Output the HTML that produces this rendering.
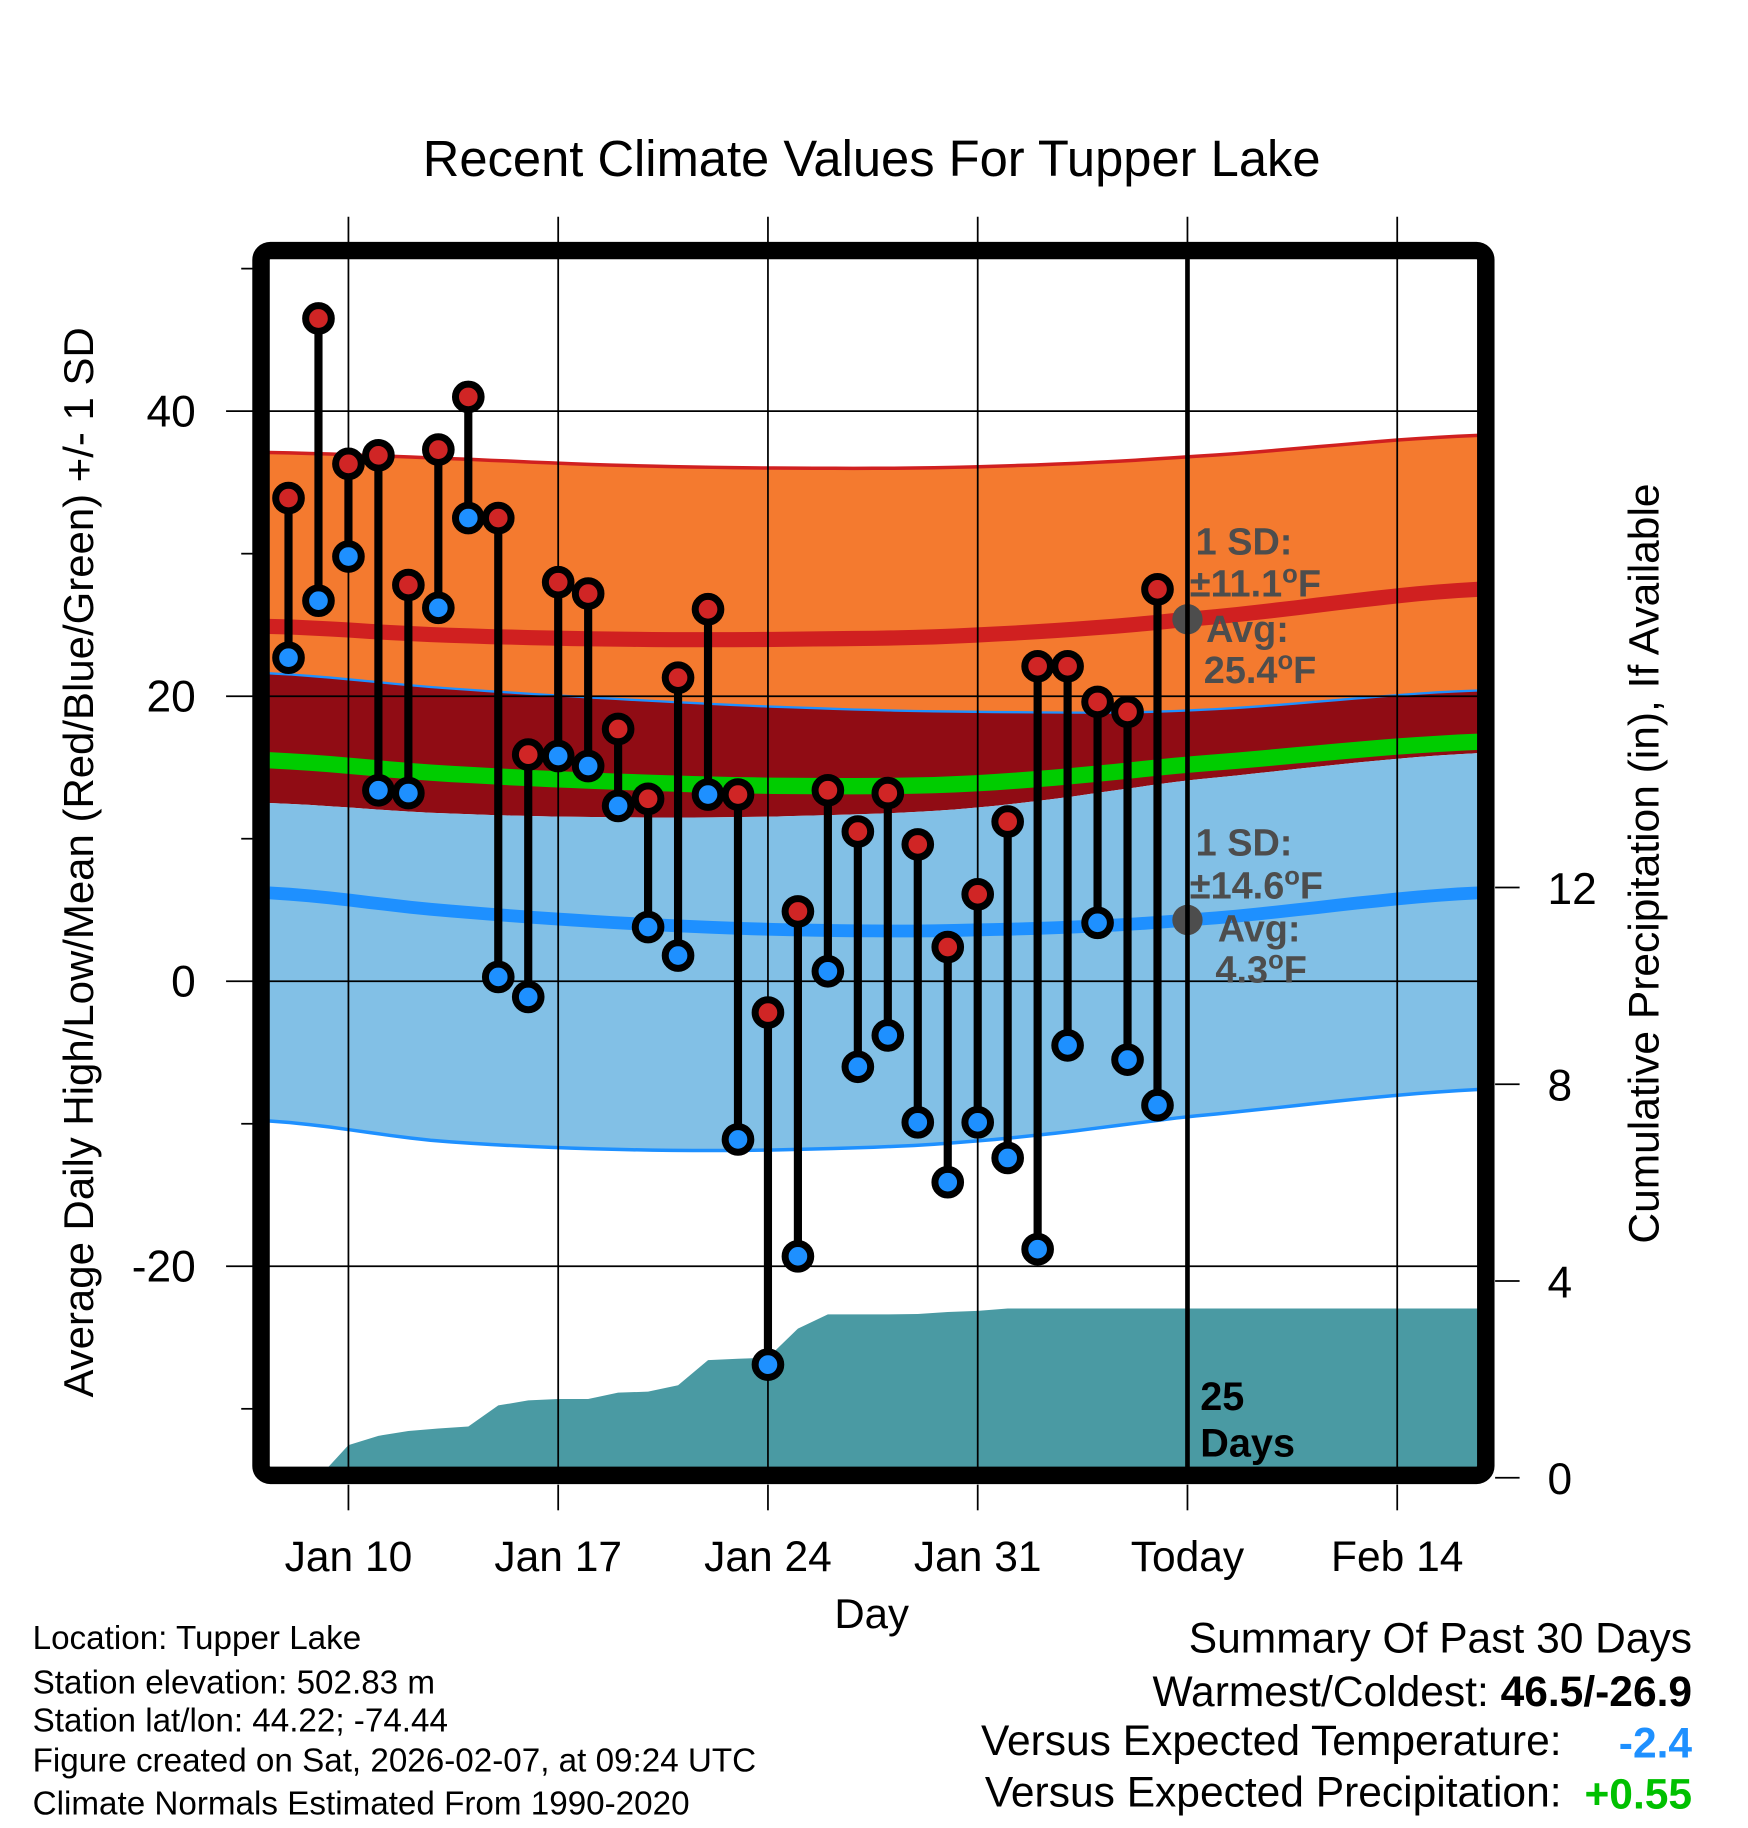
<!DOCTYPE html>
<html><head><meta charset="utf-8"><style>
html,body{margin:0;padding:0;background:#fff}
svg{display:block}
text{font-family:"Liberation Sans",sans-serif}
</style></head><body>
<svg id="chart" width="1748" height="1828" viewBox="0 0 1500 1568.6" preserveAspectRatio="none" xmlns="http://www.w3.org/2000/svg">
<g id="bands"></g>
<g id="precip"></g>
<g id="grid"></g>
<g id="annot">
 <g fill="#4d4d4d" font-weight="bold" font-size="32.5">
  <text x="1026" y="476">1 SD:</text>
  <text x="1021" y="512">±11.1<tspan font-size="22" dy="-12">o</tspan><tspan dy="12">F</tspan></text>
  <text x="1035" y="551">Avg:</text>
  <text x="1033" y="586">25.4<tspan font-size="22" dy="-12">o</tspan><tspan dy="12">F</tspan></text>
  <text x="1026" y="734">1 SD:</text>
  <text x="1021" y="771">±14.6<tspan font-size="22" dy="-12">o</tspan><tspan dy="12">F</tspan></text>
  <text x="1045" y="808">Avg:</text>
  <text x="1043" y="843">4.3<tspan font-size="22" dy="-12">o</tspan><tspan dy="12">F</tspan></text>
 </g>
</g>
<g id="marks"></g>
<line x1="1019" y1="222" x2="1019" y2="1262" stroke="#000" stroke-width="4"/>
<text x="1030" y="1210" font-size="34" font-weight="bold">25</text>
<text x="1030" y="1250" font-size="34" font-weight="bold">Days</text>
<rect x="224" y="215" width="1051" height="1051" rx="8" fill="none" stroke="#000" stroke-width="15"/>
<g id="axes"></g>
<text x="748" y="151" font-size="43.5" text-anchor="middle">Recent Climate Values For Tupper Lake</text>
<text x="748" y="1397" font-size="36" text-anchor="middle">Day</text>
<text transform="translate(80,740) rotate(-90)" font-size="36" text-anchor="middle">Average Daily High/Low/Mean (Red/Blue/Green) +/- 1 SD</text>
<text transform="translate(1423,741) rotate(-90)" font-size="36.5" text-anchor="middle">Cumulative Precipitation (in), If Available</text>
<g font-size="28.5">
 <text x="28" y="1415">Location: Tupper Lake</text>
 <text x="28" y="1453">Station elevation: 502.83 m</text>
 <text x="28" y="1486">Station lat/lon: 44.22; -74.44</text>
 <text x="28" y="1520">Figure created on Sat, 2026-02-07, at 09:24 UTC</text>
 <text x="28" y="1557">Climate Normals Estimated From 1990-2020</text>
</g>
<g font-size="36.5">
 <text x="1452" y="1418" text-anchor="end">Summary Of Past 30 Days</text>
 <text x="1452" y="1464" text-anchor="end">Warmest/Coldest: <tspan font-weight="bold">46.5/-26.9</tspan></text>
 <text x="1340" y="1506" text-anchor="end">Versus Expected Temperature:</text>
 <text x="1452" y="1508" text-anchor="end" font-weight="bold" fill="#1e90ff">-2.4</text>
 <text x="1340" y="1550" text-anchor="end">Versus Expected Precipitation:</text>
 <text x="1452" y="1552" text-anchor="end" font-weight="bold" fill="#00c000">+0.55</text>
</g>
</svg>
<script>
// day offsets from Jan 10
const days = [-2,-1,0,1,2,3,4,5,6,7,8,9,10,11,12,13,14,15,16,17,18,19,20,21,22,23,24,25,26,27];
const highs = [33.9,46.5,36.3,36.9,27.8,37.3,41.0,32.5,15.9,28.0,27.2,17.7,12.8,21.3,26.1,13.1,-2.2,4.9,13.4,10.5,13.2,9.6,2.4,6.1,11.2,22.1,22.1,19.6,18.9,27.5];
const lows = [22.7,26.7,29.8,13.4,13.2,26.2,32.5,0.3,-1.1,15.8,15.1,12.3,3.8,1.8,13.1,-11.1,-26.9,-19.3,0.7,-6.0,-3.8,-9.9,-14.1,-9.9,-12.4,-18.8,-4.5,4.1,-5.5,-8.7];
const precip = [0,0,0.66,0.85,0.95,1.0,1.04,1.47,1.57,1.6,1.6,1.73,1.75,1.88,2.39,2.42,2.44,3.03,3.32,3.32,3.32,3.33,3.37,3.39,3.44,3.44,3.44,3.44,3.44,3.44];
const normDays = [-2.64,3,9,15,21,28,37.7];
const upperHigh = [37.1,36.7,36.2,36.0,36.1,36.8,38.3];
const avgHigh = [24.9,24.3,24.0,24.0,24.3,25.4,27.5];
const lowerHigh = [21.6,20.6,19.8,19.2,18.9,19.0,20.4];
const meanLine = [15.5,14.6,14.0,13.7,13.9,15.2,16.8];
const upperLow = [12.5,11.8,11.5,11.6,12.2,14.1,16.0];
const avgLow = [6.2,5.0,4.1,3.6,3.6,4.3,6.2];
const lowerLow = [-9.8,-11.2,-11.8,-11.8,-11.2,-9.5,-7.6];
const xTickDays = [0,7,14,21,28,35];
const xTickLabels = ["Jan 10","Jan 17","Jan 24","Jan 31","Today","Feb 14"];
const yTicks = [40,20,0,-20];
const yMinor = [50,30,10,-10,-30];
const pTicks = [0,4,8,12];

const NS='http://www.w3.org/2000/svg';
const X = d => 299 + d*25.714;
const Y = v => 842 - v*12.23;
const P = p => 1268 - p*42.2;
const L=231,R=1268,T=222,B=1259;
function mk(parent,tag,attrs){const e=document.createElementNS(NS,tag);for(const k in attrs)e.setAttribute(k,attrs[k]);document.getElementById(parent).appendChild(e);return e;}
// smooth (Catmull-Rom-ish via monotone sampling) interpolation for display
function interp(arr,d){
  const n=normDays.length;
  let i=0; while(i<n-2 && d>normDays[i+1]) i++;
  const x0=normDays[i],x1=normDays[i+1],t=(d-x0)/(x1-x0);
  const p0=arr[Math.max(i-1,0)],p1=arr[i],p2=arr[i+1],p3=arr[Math.min(i+2,n-1)];
  const t2=t*t,t3=t2*t;
  return 0.5*((2*p1)+(-p0+p2)*t+(2*p0-5*p1+4*p2-p3)*t2+(-p0+3*p1-3*p2+p3)*t3);
}
function pts(arr){const out=[];const d0=normDays[0],d1=normDays[normDays.length-1];for(let k=0;k<=60;k++){const d=d0+(d1-d0)*k/60;out.push(X(d).toFixed(1)+','+Y(interp(arr,d)).toFixed(1));}return out;}
function band(top,bot,fill,name){
  const e=mk('bands','polygon',{points:pts(top).concat(pts(bot).reverse()).join(' '),fill:fill});
  
  
}
function line(arr,stroke,w,name){
  const e=mk('bands','polyline',{points:pts(arr).join(' '),fill:'none',stroke:stroke,'stroke-width':w});
  
  
}
band(upperHigh,lowerHigh,'#f47a2f','high-sd-band');
band(lowerHigh,upperLow,'#900c14','overlap-band');
band(upperLow,lowerLow,'#82c0e6','low-sd-band');
line(upperHigh,'#d02020',3,'high-upper-line');
line(lowerHigh,'#1e90ff',2,'high-lower-line');
line(lowerLow,'#1e90ff',3,'low-lower-line');
line(avgHigh,'#d02020',13,'avg-high-line');
line(meanLine,'#00cc00',14,'mean-line');
line(avgLow,'#1e90ff',11,'avg-low-line');

// precipitation
let pp=[X(days[0])+','+B];
days.forEach((d,i)=>pp.push(X(d).toFixed(1)+','+Math.min(P(precip[i]),B+12).toFixed(1)));
pp.push(R+','+P(precip[precip.length-1]).toFixed(1)); pp.push(R+','+(B+12));
const pa=mk('precip','polygon',{points:pp.join(' '),fill:'#4a9aa3'});



// grid
xTickDays.forEach((d,i)=>{
  const g=mk('grid','line',{x1:X(d),x2:X(d),y1:186,y2:B,stroke:'#000','stroke-width':1.5});
  
  
  const t=mk('axes','line',{x1:X(d),x2:X(d),y1:1274,y2:1296,stroke:'#000','stroke-width':1.5});
  
  
  const lb=mk('axes','text',{x:X(d),y:1348,'font-size':36.5,'text-anchor':'middle'});
  lb.textContent=xTickLabels[i];
  
  
});
yTicks.forEach(v=>{
  const g=mk('grid','line',{x1:L,x2:R,y1:Y(v),y2:Y(v),stroke:'#000','stroke-width':1.5});
  
  
  const t=mk('axes','line',{x1:194,x2:217,y1:Y(v),y2:Y(v),stroke:'#000','stroke-width':1.5});
  
  
  const lb=mk('axes','text',{x:168,y:Y(v)+13,'font-size':38,'text-anchor':'end'});
  lb.textContent=String(v);
  
  
});
yMinor.forEach(v=>{
  const t=mk('axes','line',{x1:207,x2:217,y1:Y(v),y2:Y(v),stroke:'#000','stroke-width':1.5});
  
  
});
pTicks.forEach(p=>{
  const t=mk('axes','line',{x1:1283,x2:1304,y1:P(p),y2:P(p),stroke:'#000','stroke-width':1.5});
  
  
  const lb=mk('axes','text',{x:1328,y:P(p)+14,'font-size':38});
  lb.textContent=String(p);
  
  
});

// normal dots
[[28,25.4],[28,4.3]].forEach(a=>{
  const c=mk('annot','circle',{cx:X(a[0]),cy:Y(a[1]),r:13,fill:'#4d4d4d'});
  
  
});

// marks
days.forEach((d,i)=>{
  const x=X(d);
  const s=mk('marks','line',{x1:x,x2:x,y1:Y(highs[i]),y2:Y(lows[i]),stroke:'#000','stroke-width':7});
  
  
});
days.forEach((d,i)=>{
  const x=X(d);
  const h=mk('marks','circle',{cx:x,cy:Y(highs[i]),r:11,fill:'#d02525',stroke:'#000','stroke-width':6});
  
  
  const l=mk('marks','circle',{cx:x,cy:Y(lows[i]),r:11,fill:'#1e90ff',stroke:'#000','stroke-width':6});
  
  
});
</script>
</body></html>
